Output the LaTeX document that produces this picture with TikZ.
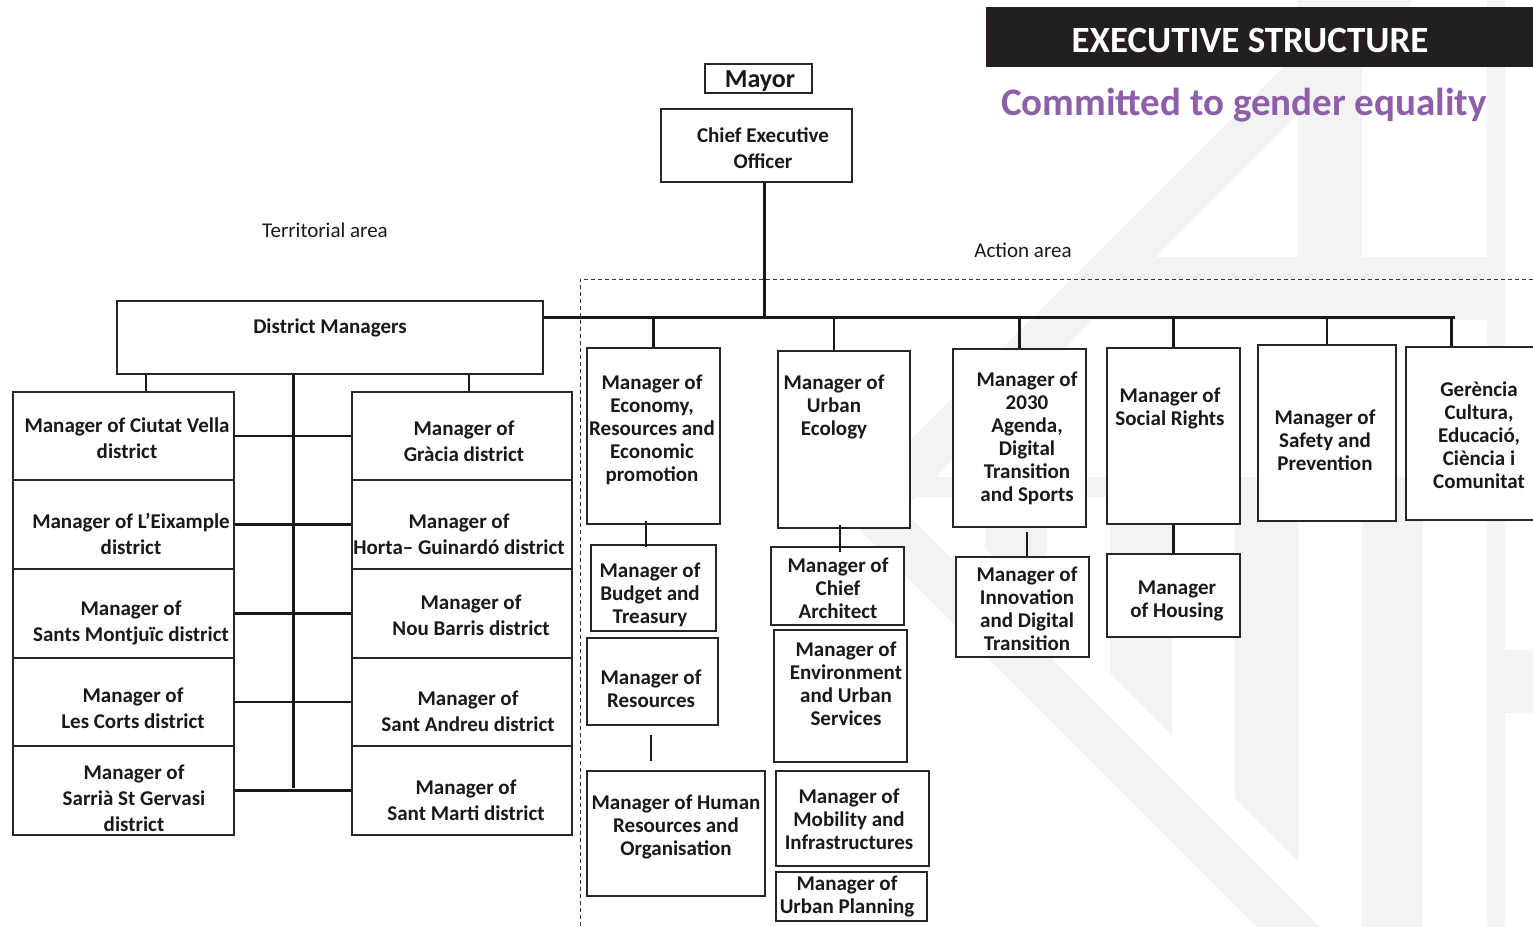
\documentclass[tikz,border=0pt]{standalone}
\usepackage{fontspec}
\setmainfont{Carlito}
\usetikzlibrary{fit,calc}
\definecolor{wmgray}{RGB}{243,243,243}
\definecolor{headblack}{RGB}{35,31,32}
\definecolor{slogan}{RGB}{142,94,168}
\tikzset{
  box/.style={draw=black!85, line width=0.7pt, fill=white, inner sep=0pt},
  txt/.style={font=\bfseries\fontsize{10.5}{11.5}\selectfont, align=center, inner sep=0pt, text=black!90, yshift=-1pt},
  dtxt/.style={font=\bfseries\fontsize{10.5}{13}\selectfont, align=center, inner sep=0pt, text=black!90, yshift=-1pt},
  plain/.style={font=\fontsize{10.5}{13}\selectfont, inner sep=0pt, text=black!90, yshift=-0.5pt},
  link/.style={line width=1.2pt, draw=black!90},
  trunk/.style={line width=1.5pt, draw=black!90},
  wm/.style={fill=wmgray, draw=none}
}
\begin{document}
\begin{tikzpicture}[x=0.5pt,y=-0.5pt]
\useasboundingbox (0,0) rectangle (1533,927);

% watermark
\fill[wm] (1350,0) -- (840,510) -- (1257,927) -- (1320,927) -- (903,510) -- (1413,0) -- cycle;
\fill[wm] (1298,0) rectangle (1362,257);
\fill[wm] (1156,257) -- (1505,257) -- (1505,320) -- (1093,320) -- cycle;
\fill[wm] (1487,0) rectangle (1505,927);
\fill[wm] (936,477) -- (1505,477) -- (1505,497) -- (916,497) -- cycle;
\fill[wm] (985,497) -- (1047,497) -- (1047,610) -- (985,548) -- cycle;
\fill[wm] (1110,497) -- (1172,497) -- (1172,735) -- (1110,673) -- cycle;
\fill[wm] (1235,497) -- (1298,497) -- (1298,861) -- (1235,798) -- cycle;
\fill[wm] (1362,497) rectangle (1423,927);
\fill[wm] (1505,650) rectangle (1533,713);

% heading
\node[fill=headblack, inner sep=0pt, fit={(986,7) (1540,67)}] (head) {};
\node[font=\bfseries\fontsize{18.5}{20}\selectfont, text=white, inner sep=0pt] (headtxt) at (1250,40) {EXECUTIVE STRUCTURE};
\node[font=\bfseries\fontsize{19.5}{22}\selectfont, text=slogan, inner sep=0pt] (motto) at (1244,105) {Committed to gender equality};
\node[plain] (terr) at (325,229) {Territorial area};
\node[plain] (act) at (1023,249) {Action area};

% action area frame
\draw[line width=0.5pt, draw=black!80, dash pattern=on 2pt off 1.5pt] (1540,279) -- (580,279) -- (580,930);

% top
\node[box, fit={(705,64) (812,93)}] (mayor) {};
\node[font=\bfseries\fontsize{13}{15}\selectfont, inner sep=0pt, text=black!90] (mayortxt) at (760,81) {Mayor};
\node[box, fit={(661,109) (852,182)}] (ceo) {};
\node[dtxt] (ceotxt) at (763,146) {Chief Executive\\Officer};

% territorial area
\node[box, fit={(117,301) (543,374)}] (dm) {};
\node[txt] (dmtxt) at (330,326) {District Managers};
\node[box, fit={(13,392) (234,480)}] (l1) {};
\node[box, fit={(13,480) (234,569)}] (l2) {};
\node[box, fit={(13,569) (234,658)}] (l3) {};
\node[box, fit={(13,658) (234,746)}] (l4) {};
\node[box, fit={(13,746) (234,835)}] (l5) {};
\node[box, fit={(352,392) (572,480)}] (r1) {};
\node[box, fit={(352,480) (572,569)}] (r2) {};
\node[box, fit={(352,569) (572,658)}] (r3) {};
\node[box, fit={(352,658) (572,746)}] (r4) {};
\node[box, fit={(352,746) (572,835)}] (r5) {};
\node[dtxt] (l1txt) at (127,436) {Manager of Ciutat Vella\\district};
\node[dtxt] (l2txt) at (131,532) {Manager of L’Eixample\\district};
\node[dtxt] (l3txt) at (131,621) {Manager of\\Sants Montjuïc district};
\node[dtxt] (l4txt) at (133,706) {Manager of\\Les Corts district};
\node[dtxt] (l5txt) at (134,796) {Manager of\\Sarrià St Gervasi\\district};
\node[dtxt] (r1txt) at (464,439) {Manager of\\Gràcia district};
\node[dtxt] (r2txt) at (459,532) {Manager of\\Horta– Guinardó district};
\node[dtxt] (r3txt) at (471,613) {Manager of\\Nou Barris district};
\node[dtxt] (r4txt) at (468,709) {Manager of\\Sant Andreu district};
\node[dtxt] (r5txt) at (466,798) {Manager of\\Sant Marti district};

% action area
\node[box, fit={(587,348) (720,524)}] (eco) {};
\node[box, fit={(591,545) (716,631)}] (bud) {};
\node[box, fit={(587,638) (718,725)}] (res) {};
\node[box, fit={(587,771) (765,896)}] (hr) {};
\node[box, fit={(778,351) (910,528)}] (ue) {};
\node[box, fit={(771,547) (904,625)}] (ca) {};
\node[box, fit={(774,630) (907,762)}] (env) {};
\node[box, fit={(776,771) (929,866)}] (mob) {};
\node[box, fit={(776,872) (927,921)}] (up) {};
\node[box, fit={(953,349) (1086,527)}] (ag) {};
\node[box, fit={(956,557) (1089,657)}] (inn) {};
\node[box, fit={(1107,348) (1240,524)}] (soc) {};
\node[box, fit={(1107,554) (1240,637)}] (hou) {};
\node[box, fit={(1258,345) (1396,521)}] (saf) {};
\node[box, fit={(1406,347) (1560,520)}] (ger) {};
\node[txt] (ecotxt) at (652,428) {Manager of\\Economy,\\Resources and\\Economic\\promotion};
\node[txt] (budtxt) at (650,593) {Manager of\\Budget and\\Treasury};
\node[txt] (restxt) at (651,687) {Manager of\\Resources};
\node[txt] (hrtxt) at (676,825) {Manager of Human\\Resources and\\Organisation};
\node[txt] (uetxt) at (834,405) {Manager of\\Urban\\Ecology};
\node[txt] (catxt) at (838,586) {Manager of\\Chief\\Architect};
\node[txt] (envtxt) at (846,682) {Manager of\\Environment\\and Urban\\Services};
\node[txt] (mobtxt) at (849,817) {Manager of\\Mobility and\\Infrastructures};
\node[txt] (uptxt) at (847,894) {Manager of\\Urban Planning};
\node[txt] (agtxt) at (1027,436) {Manager of\\2030\\Agenda,\\Digital\\Transition\\and Sports};
\node[txt] (inntxt) at (1027,607) {Manager of\\Innovation\\and Digital\\Transition};
\node[txt] (soctxt) at (1170,406) {Manager of\\Social Rights};
\node[txt] (houtxt) at (1177,599) {Manager\\of Housing};
\node[txt] (saftxt) at (1325,438) {Manager of\\Safety and\\Prevention};
\node[txt] (gertxt) at (1479,433) {Gerència\\Cultura,\\Educació,\\Ciència i\\Comunitat};

% connectors
\coordinate (hub) at (764,317);
\coordinate (barend) at (1455,317);
\coordinate (spine) at (293,788);
\draw[trunk] (hub |- ceo.south) -- (hub);
\draw[trunk] (dm.east |- hub) -- (barend);
\draw[link] (eco.north |- hub) -- (eco.north);
\draw[link] ($(ue.north |- hub)+(-10,0)$) -- ($(ue.north)+(-10,0)$);
\draw[link] (ag.north |- hub) -- (ag.north);
\draw[link] (soc.north |- hub) -- (soc.north);
\draw[link] (saf.north |- hub) -- (saf.north);
\draw[link] ($(ger.north west |- hub)+(46,0)$) -- ($(ger.north west)+(46,0)$);
\draw[link] ($(eco.south)+(-7.5,-4)$) -- ($(bud.north)+(-7.5,3)$);
\draw[link] ($(res.south)+(-1.5,9)$) -- ($(res.south |- hr.north)+(-1.5,-9)$);
\draw[link] ($(ue.south)+(-4,-4)$) -- ($(ca.north)+(2.5,6)$);
\draw[link] ($(ag.south)+(7.5,4)$) -- ($(inn.north)+(4.5,0)$);
\draw[link] (soc.south) -- (hou.north);

\draw[link] ($(l1.north)+(22.5,0)$) -- ($(l1.north |- dm.south)+(22.5,0)$);
\draw[link] ($(r1.north)+(7,0)$) -- ($(r1.north |- dm.south)+(7,0)$);
\draw[trunk] (spine |- dm.south) -- (spine);
\draw[link] (l1.east) -- (r1.west);
\draw[link] (l2.east) -- (r2.west);
\draw[link] (l3.east) -- (r3.west);
\draw[link] (l4.east) -- (r4.west);
\draw[link] (l5.east) -- (r5.west);
\end{tikzpicture}
\end{document}
